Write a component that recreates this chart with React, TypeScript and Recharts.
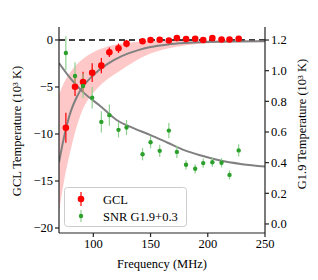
import React from "react";
import {
  ComposedChart,
  XAxis,
  YAxis,
  Line,
  Area,
  Scatter,
  ErrorBar,
  ReferenceLine,
  Label,
} from "recharts";

// measured channels (MHz)
const freqs = [76, 84, 91, 99, 107, 114, 122, 129, 143, 150, 158, 166, 173, 181, 189, 196, 204, 212, 219, 227];

// GCL temperature (10^3 K), left axis
const gclTemp = [-9.33, -4.97, -4.47, -3.48, -2.73, -1.31, -0.88, -0.39, -0.14, 0.0, 0.02, -0.05, 0.2, 0.1, 0.13, 0.0, 0.2, 0.05, 0.05, 0.13];
const gclErr = [1.6, 1.0, 1.1, 1.0, 0.8, 0.5, 0.5, 0.4, 0.15, 0.1, 0.1, 0.1, 0.1, 0.1, 0.1, 0.1, 0.1, 0.1, 0.1, 0.1];

// SNR G1.9+0.3 temperature (10^3 K), right axis
const snrTemp = [1.115, 0.965, 0.9, 0.824, 0.666, 0.71, 0.614, 0.629, 0.455, 0.533, 0.477, 0.609, 0.47, 0.386, 0.36, 0.397, 0.403, 0.399, 0.32, 0.48];
const snrErr = [0.11, 0.09, 0.08, 0.07, 0.07, 0.07, 0.05, 0.05, 0.04, 0.04, 0.04, 0.05, 0.04, 0.03, 0.03, 0.03, 0.03, 0.03, 0.03, 0.04];

// GCL model curve and its band
const fitFreqs = [70, 75, 80, 85, 90, 95, 100, 105, 110, 115, 120, 130, 140, 150, 165, 180, 200, 225, 250];
const fitGcl = [-13.0, -10.0, -7.7, -6.2, -5.1, -4.35, -3.75, -3.2, -2.75, -2.35, -2.0, -1.45, -1.05, -0.75, -0.48, -0.33, -0.22, -0.16, -0.13];
const bandLow = [-18.3, -14.6, -11.8, -9.4, -7.6, -6.4, -5.6, -4.95, -4.4, -3.95, -3.55, -2.75, -2.0, -1.45, -0.9, -0.58, -0.36, -0.25, -0.2];
const bandHigh = [-5.8, -4.4, -3.4, -2.65, -2.1, -1.65, -1.3, -1.02, -0.8, -0.62, -0.48, -0.3, -0.19, -0.12, -0.07, -0.05, -0.03, -0.02, -0.02];

// SNR model curve
const snrFitFreqs = [70, 80, 91, 106, 120, 135, 150, 165, 180, 195, 210, 230, 250];
const snrFit = [1.05, 0.95, 0.86, 0.77, 0.68, 0.625, 0.58, 0.53, 0.48, 0.445, 0.415, 0.39, 0.375];

const xTicks = [100, 150, 200, 250];
const leftTicks = [-20, -15, -10, -5, 0];
const rightTicks = [0, 0.2, 0.4, 0.6, 0.8, 1.0, 1.2];

const gclData = freqs.map((f, i) => ({ f, y: gclTemp[i], e: gclErr[i] }));
const snrData = freqs.map((f, i) => ({ f, y: snrTemp[i], e: snrErr[i] }));
const gclFit = fitFreqs.map((f, i) => ({ f, y: fitGcl[i] }));
const band = fitFreqs.map((f, i) => ({ f, r: [bandLow[i], bandHigh[i]] }));
const snrFitData = snrFitFreqs.map((f, i) => ({ f, y: snrFit[i] }));

const FONT = "Liberation Serif";
const tickStyle = { fontSize: 12.5, fill: "#000", fontFamily: FONT };
const AXIS = "#222";

const minus = (v: number) => (v < 0 ? "\u2212" + Math.abs(v) : String(v));

const RedDot = (p: any) => <circle cx={p.cx} cy={p.cy} r={3.3} fill="#ff0000" />;
const GreenDot = (p: any) => <circle cx={p.cx} cy={p.cy} r={2.2} fill="#2ca02c" />;

function LegendBox() {
  return (
    <svg
      width={124}
      height={41}
      style={{ position: "absolute", left: 64, top: 187 }}
    >
      <rect x={0.5} y={0.5} width={122} height={39} rx={3} fill="rgba(255,255,255,0.85)" stroke="#ccc" />
      <line x1={17} x2={17} y1={5} y2={19} stroke="#ff0000" strokeWidth={1.2} />
      <circle cx={17} cy={12} r={3.3} fill="#ff0000" />
      <text x={39} y={16.5} fontSize={12.5} fontFamily={FONT} fill="#000">GCL</text>
      <line x1={17} x2={17} y1={23} y2={35} stroke="#8fd08f" strokeWidth={1.2} />
      <circle cx={17} cy={29} r={2.2} fill="#2ca02c" />
      <text x={39} y={33.5} fontSize={12.5} fontFamily={FONT} fill="#000">SNR G1.9+0.3</text>
    </svg>
  );
}

export default function App() {
  return (
    <div style={{ position: "absolute", left: 0, top: 0, width: 318, height: 280, background: "#fff", fontFamily: FONT }}>
      <ComposedChart width={318} height={280} margin={{ top: 27, right: 0, bottom: 0, left: 0 }} style={{ fontFamily: FONT }}>
        <XAxis
          dataKey="f"
          type="number"
          domain={[70, 250]}
          ticks={xTicks}
          allowDataOverflow
          height={47}
          tickSize={4}
          tick={tickStyle}
          stroke={AXIS}
          strokeWidth={1.2}
        >
          <Label
            value="Frequency (MHz)"
            position="insideBottom"
            offset={12}
            fontFamily={FONT}
            fontSize={12.5}
            fill="#000"
          />
        </XAxis>
        <XAxis
          xAxisId="top"
          orientation="top"
          dataKey="f"
          type="number"
          domain={[70, 250]}
          height={0}
          tick={false}
          tickLine={false}
          stroke={AXIS}
          strokeWidth={1.2}
        >
          <Label value="GCL Left" position="top" offset={8} fontFamily={FONT} fontSize={14.5} fill="#000" />
        </XAxis>
        <YAxis
          yAxisId="l"
          type="number"
          domain={[-20.53, 1.38]}
          ticks={leftTicks}
          allowDataOverflow
          width={59}
          tickSize={4}
          tick={tickStyle}
          tickFormatter={minus}
          stroke={AXIS}
          strokeWidth={1.2}
        >
          <Label
            content={() => (
              <text x={21} y={131} transform="rotate(-90 21 131)" textAnchor="middle" fontSize={12.5} fontFamily={FONT} fill="#000">
                GCL Temperature (10³ K)
              </text>
            )}
          />
        </YAxis>
        <YAxis
          yAxisId="r"
          orientation="right"
          type="number"
          domain={[-0.059, 1.285]}
          ticks={rightTicks}
          allowDataOverflow
          width={53}
          tickSize={4}
          tick={tickStyle}
          tickFormatter={(v: number) => v.toFixed(1)}
          stroke={AXIS}
          strokeWidth={1.2}
        >
          <Label
            content={() => (
              <text x={306} y={124} transform="rotate(-90 306 124)" textAnchor="middle" fontSize={12.5} fontFamily={FONT} fill="#000">
                G1.9 Temperature (10³ K)
              </text>
            )}
          />
        </YAxis>

        <Area
          yAxisId="l"
          data={band}
          dataKey="r"
          type="monotone"
          stroke="none"
          fill="#ffc8c8"
          fillOpacity={1}
          isAnimationActive={false}
        />
        <ReferenceLine yAxisId="l" y={0} stroke="#000" strokeDasharray="6 4" strokeWidth={1.6} />
        <Line
          yAxisId="l"
          data={gclFit}
          dataKey="y"
          type="monotone"
          stroke="#808080"
          strokeWidth={2}
          dot={false}
          isAnimationActive={false}
        />
        <Line
          yAxisId="r"
          data={snrFitData}
          dataKey="y"
          type="monotone"
          stroke="#808080"
          strokeWidth={2}
          dot={false}
          isAnimationActive={false}
        />
        <Scatter yAxisId="l" data={gclData} dataKey="y" shape={RedDot} isAnimationActive={false}>
          <ErrorBar dataKey="e" direction="y" width={0} stroke="#ff0000" strokeWidth={1.2} />
        </Scatter>
        <Scatter yAxisId="r" data={snrData} dataKey="y" shape={GreenDot} isAnimationActive={false}>
          <ErrorBar dataKey="e" direction="y" width={0} stroke="#8fd08f" strokeWidth={1.2} />
        </Scatter>
      </ComposedChart>
      <LegendBox />
    </div>
  );
}
